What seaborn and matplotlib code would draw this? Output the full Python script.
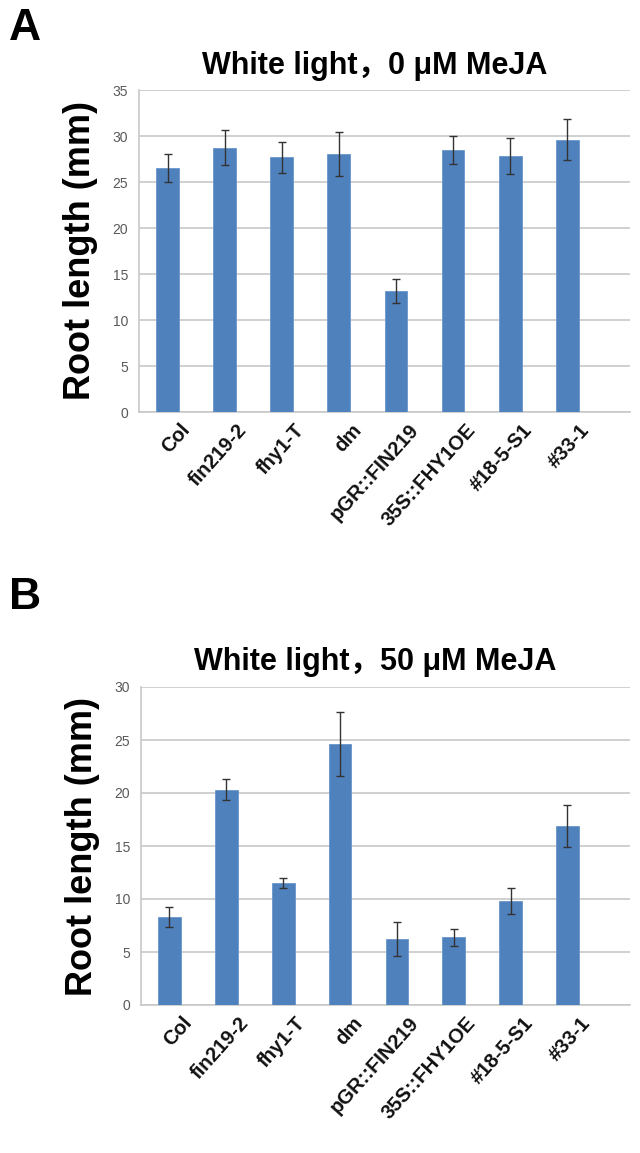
import matplotlib
matplotlib.use("Agg")
import matplotlib.pyplot as plt
import matplotlib.transforms as mtrans
import seaborn as sns
import pandas as pd
import numpy as np

categories = ["Col", "fin219-2", "fhy1-T", "dm", "pGR::FIN219", "35S::FHY1OE", "#18-5-S1", "#33-1"]

values_a = [26.5, 28.7, 27.7, 28.0, 13.2, 28.5, 27.8, 29.6]
errors_a = [1.5, 1.9, 1.7, 2.4, 1.3, 1.5, 1.95, 2.2]

values_b = [8.3, 20.3, 11.5, 24.6, 6.2, 6.4, 9.8, 16.9]
errors_b = [0.95, 1.0, 0.45, 3.0, 1.6, 0.8, 1.25, 2.0]

title_a = "White light，0 μM MeJA"
title_b = "White light，50 μM MeJA"
ylabel = "Root length (mm)"

sns.set_theme(style="white")
plt.rcParams["font.family"] = ["Liberation Sans", "Noto Sans CJK SC", "DejaVu Sans"]

W, H = 640, 1153
fig = plt.figure(figsize=(W / 100, H / 100), dpi=100)

bar_color = "#4F81BD"
grid_color = "#C8C8C8"


def panel(rect, values, errors, ymax, title, title_y, letter, letter_y):
    left, top, right, bottom = rect
    ax = fig.add_axes([left / W, 1 - bottom / H, (right - left) / W, (bottom - top) / H])
    df = pd.DataFrame({"line": categories, "len": values})
    sns.barplot(data=df, x="line", y="len", ax=ax, color=bar_color, width=0.4,
                saturation=1, edgecolor="#6A96CC", linewidth=0.6, errorbar=None, zorder=3)
    ax.errorbar(np.arange(len(categories)), values, yerr=errors, fmt="none",
                ecolor="#333333", elinewidth=1.0, capsize=3, capthick=1.0, zorder=4)
    ax.set_ylim(0, ymax)
    ax.set_xlim(-0.5, 8.1)
    ax.set_yticks(np.arange(0, ymax + 0.1, 5))
    ax.yaxis.grid(True, color=grid_color, linewidth=1.2, zorder=0)
    ax.set_axisbelow(True)
    for s in ["top", "right"]:
        ax.spines[s].set_visible(False)
    for s in ["left", "bottom"]:
        ax.spines[s].set_color(grid_color)
        ax.spines[s].set_linewidth(1.2)
    ax.tick_params(axis="y", labelsize=10, labelcolor="#595959", length=0, pad=8)
    ax.set_xticks(np.arange(len(categories)) - 0.5, minor=True)
    ax.tick_params(axis="x", which="minor", length=5, color=grid_color, width=1.2, direction="out")
    ax.set_xticks(np.arange(len(categories)))
    ax.set_xticklabels(categories)
    ax.tick_params(axis="x", which="major", length=0, pad=6)
    offset = mtrans.ScaledTranslation(12 / 100, 0, fig.dpi_scale_trans)
    for lab in ax.get_xticklabels():
        lab.set_rotation(48)
        lab.set_ha("right")
        lab.set_va("top")
        lab.set_rotation_mode("anchor")
        lab.set_fontsize(14.5)
        lab.set_fontweight("bold")
        lab.set_color("#111111")
        lab.set_transform(lab.get_transform() + offset)
    ax.set_xlabel("")
    ax.set_ylabel(ylabel, fontsize=26, fontweight="bold", labelpad=10, color="#000000")
    fig.text(375 / W, 1 - title_y / H, title, fontsize=22, fontweight="bold",
             ha="center", va="center", color="#000000")
    fig.text(9 / W, 1 - letter_y / H, letter, fontsize=32, fontweight="bold",
             ha="left", va="center", color="#000000")
    return ax


panel((139, 90, 630, 412), values_a, errors_a, 35, title_a, 66, "A", 29)
panel((141, 687, 630, 1005), values_b, errors_b, 30, title_b, 662, "B", 598)

fig.savefig("out.png", dpi=100)
